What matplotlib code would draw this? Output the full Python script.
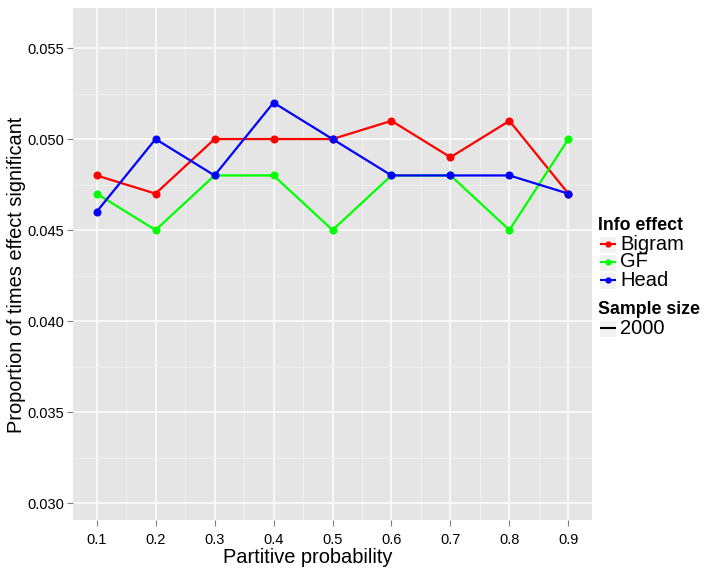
import matplotlib
matplotlib.use('Agg')
import matplotlib.pyplot as plt
from matplotlib.lines import Line2D
from matplotlib.patches import Rectangle
import numpy as np

plt.rcParams['font.family'] = ['Liberation Sans', 'DejaVu Sans']

prob = [0.1, 0.2, 0.3, 0.4, 0.5, 0.6, 0.7, 0.8, 0.9]
bigram = [0.048, 0.047, 0.050, 0.050, 0.050, 0.051, 0.049, 0.051, 0.047]
gf = [0.047, 0.045, 0.048, 0.048, 0.045, 0.048, 0.048, 0.045, 0.050]
head = [0.046, 0.050, 0.048, 0.052, 0.050, 0.048, 0.048, 0.048, 0.047]
series = [('Bigram', bigram, '#FF0000'), ('GF', gf, '#00FF00'), ('Head', head, '#0000FF')]
yticks = [0.030, 0.035, 0.040, 0.045, 0.050, 0.055]

W, H = 707, 568


def fx(x):
    return x / W


def fy(y):
    return 1 - y / H


fig = plt.figure(figsize=(W / 100, H / 100), dpi=100)
ax = fig.add_axes([73 / W, 48 / H, 519 / W, 512 / H])
ax.set_facecolor('#E5E5E5')

for name, vals, col in series:
    ax.plot(prob, vals, color=col, lw=1.6, marker='o', ms=4.8, label=name, zorder=3)

ax.set_xlim(0.06, 0.94)
ax.set_ylim(0.02907, 0.0572)
ax.set_xticks(prob)
ax.set_xticklabels([f'{p:.1f}' for p in prob])
ax.set_yticks(yticks)
ax.set_yticklabels([f'{v:.3f}' for v in yticks])
ax.set_xticks(np.arange(0.15, 0.9, 0.1), minor=True)
ax.set_yticks(np.arange(0.0325, 0.057, 0.005), minor=True)
ax.grid(which='major', color='white', lw=1.1)
ax.grid(which='minor', color='#F2F2F2', lw=0.6)
ax.set_axisbelow(True)
for s in ax.spines.values():
    s.set_visible(False)
ax.tick_params(which='major', length=4, color='#7F7F7F', labelsize=10.5, labelcolor='black')
ax.tick_params(axis='x', pad=5)
ax.tick_params(axis='y', pad=2.5)
ax.tick_params(which='minor', length=0)

ax.set_xlabel('Partitive probability', fontsize=14.4)
ax.set_ylabel('Proportion of times effect significant', fontsize=14.4)
ax.xaxis.set_label_coords(0.453, -0.055)
ax.yaxis.set_label_coords(-0.0906, 0.479)

# legend, drawn by hand to get ggplot's compact key layout
def key(y, color, marker):
    fig.patches.append(Rectangle((fx(599), fy(y + 8.5)), 17 / W, 17 / H, transform=fig.transFigure,
                                 facecolor='#F2F2F2', edgecolor='white', lw=0.8))
    fig.lines.append(Line2D([fx(600.5), fx(614.5)], [fy(y), fy(y)], transform=fig.transFigure,
                            color=color, lw=1.5))
    if marker:
        fig.lines.append(Line2D([fx(607.5)], [fy(y)], transform=fig.transFigure,
                                color=color, marker='o', ms=3.5, lw=0))


fig.text(fx(598), fy(225), 'Info effect', fontsize=12.8, fontweight='bold', va='center', ha='left')
for i, (name, _, col) in enumerate(series):
    yy = 244 + 18 * i
    key(yy, col, True)
    fig.text(fx(620), fy(yy), name, fontsize=14.5, va='center', ha='left')

fig.text(fx(598), fy(310), 'Sample size', fontsize=12.8, fontweight='bold', va='center', ha='left')
key(328, 'black', False)
fig.text(fx(620), fy(328), '2000', fontsize=14.5, va='center', ha='left')

fig.savefig('out.png', dpi=100)
